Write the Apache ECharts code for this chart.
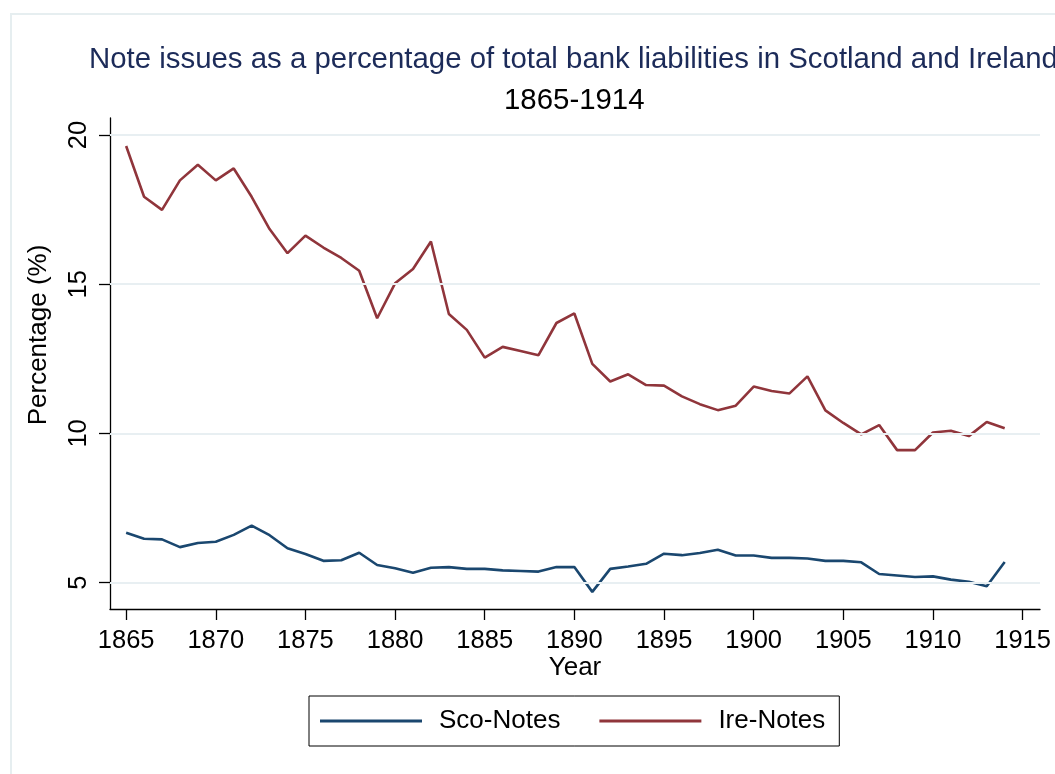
<!DOCTYPE html>
<html>
<head>
<meta charset="utf-8">
<script src="https://cdn.jsdelivr.net/npm/echarts@6/dist/echarts.min.js"></script>
<style>
html,body{margin:0;padding:0;background:#fff;}
#chart{width:1055px;height:774px;}
</style>
</head>
<body>
<div id="chart"></div>
<script>
const years = [1865,1866,1867,1868,1869,1870,1871,1872,1873,1874,1875,1876,1877,1878,1879,1880,1881,1882,1883,1884,1885,1886,1887,1888,1889,1890,1891,1892,1893,1894,1895,1896,1897,1898,1899,1900,1901,1902,1903,1904,1905,1906,1907,1908,1909,1910,1911,1912,1913,1914];
const scoNotes = [6.67,6.47,6.45,6.19,6.33,6.37,6.60,6.91,6.59,6.15,5.96,5.73,5.75,6.00,5.59,5.48,5.33,5.50,5.52,5.46,5.46,5.41,5.39,5.37,5.52,5.52,4.69,5.46,5.54,5.63,5.97,5.92,5.99,6.10,5.91,5.91,5.83,5.83,5.81,5.73,5.73,5.68,5.29,5.24,5.19,5.21,5.10,5.03,4.88,5.69];
const ireNotes = [19.63,17.93,17.49,18.48,19.00,18.48,18.88,17.93,16.85,16.04,16.63,16.23,15.88,15.45,13.86,15.03,15.51,16.43,14.00,13.47,12.54,12.90,12.76,12.62,13.70,14.02,12.33,11.74,11.98,11.62,11.60,11.24,10.98,10.78,10.93,11.57,11.42,11.34,11.91,10.77,10.35,9.97,10.28,9.44,9.44,10.03,10.09,9.91,10.38,10.17];
const xTicks = [1865,1870,1875,1880,1885,1890,1895,1900,1905,1910,1915];
const yTicks = [5,10,15,20];
const titleText = 'Note issues as a percentage of total bank liabilities in Scotland and Ireland';
const subTitleText = '1865-1914';

const FONT = '"Liberation Sans", Arial, sans-serif';
const chart = echarts.init(document.getElementById('chart'), null, {renderer: 'canvas'});
chart.setOption({
  animation: false,
  backgroundColor: '#ffffff',
  graphic: [{
    type: 'rect', silent: true, z: -10,
    shape: {x: 11, y: 14, width: 1100, height: 800},
    style: {fill: 'none', stroke: '#e6eef0', lineWidth: 2}
  }],
  title: [
    {text: titleText, left: 89, top: 45,
     textStyle: {fontFamily: FONT, fontSize: 29.4, fontWeight: 'normal', color: '#1c2b59', lineHeight: 29}, padding: 0},
    {text: subTitleText, left: 504, top: 86,
     textStyle: {fontFamily: FONT, fontSize: 29.4, fontWeight: 'normal', color: '#000000', lineHeight: 29}, padding: 0}
  ],
  legend: {
    left: 309, top: 696,
    orient: 'horizontal',
    icon: 'rect',
    itemWidth: 102, itemHeight: 3, itemGap: 39,
    padding: [12, 14, 12, 11],
    borderColor: '#000', borderWidth: 1,
    textStyle: {fontFamily: FONT, fontSize: 26, color: '#000', padding: [0, 0, 0, 12]},
    data: ['Sco-Notes', 'Ire-Notes']
  },
  grid: {left: 110, right: 15, top: 118, bottom: 165, containLabel: false},
  xAxis: {
    type: 'value', min: 1864.1, max: 1915.97,
    name: 'Year', nameLocation: 'middle', nameGap: 46, nameMoveOverlap: false,
    nameTextStyle: {fontFamily: FONT, fontSize: 26, color: '#000'},
    axisLine: {onZero: false, lineStyle: {color: '#000', width: 1.3}},
    axisTick: {show: true, length: 11, customValues: xTicks, lineStyle: {color: '#000', width: 1.3}},
    axisLabel: {customValues: xTicks, margin: 19, fontFamily: FONT, fontSize: 25.5, color: '#000',
      formatter: v => String(v)},
    splitLine: {show: false}
  },
  yAxis: {
    type: 'value', min: 4.116, max: 20.57,
    name: 'Percentage (%)', nameLocation: 'middle', nameGap: 58,
    nameTextStyle: {fontFamily: FONT, fontSize: 26, color: '#000', padding: [0, 0, 0, 57]},
    axisLine: {onZero: false, lineStyle: {color: '#000', width: 1.3}},
    axisTick: {show: true, length: 11, customValues: yTicks, lineStyle: {color: '#000', width: 1.3}},
    axisLabel: {customValues: yTicks, rotate: 90, margin: 18, fontFamily: FONT, fontSize: 25.5, color: '#000',
      formatter: v => String(v)},
    splitLine: {show: false}
  },
  series: [
    {
      name: 'grid', type: 'line', data: [], silent: true, z: 0,
      markLine: {
        silent: true, symbol: 'none', label: {show: false},
        lineStyle: {color: '#e8eff2', width: 2, type: 'solid'},
        data: yTicks.map(v => ({yAxis: v}))
      }
    },
    {
      name: 'Sco-Notes', type: 'line', z: 3,
      data: years.map((y, i) => [y, scoNotes[i]]),
      showSymbol: false, symbol: 'none',
      lineStyle: {color: '#1a476f', width: 2.6},
      itemStyle: {color: '#1a476f'}
    },
    {
      name: 'Ire-Notes', type: 'line', z: 3,
      data: years.map((y, i) => [y, ireNotes[i]]),
      showSymbol: false, symbol: 'none',
      lineStyle: {color: '#90353b', width: 2.6},
      itemStyle: {color: '#90353b'}
    }
  ]
});
</script>
</body>
</html>
